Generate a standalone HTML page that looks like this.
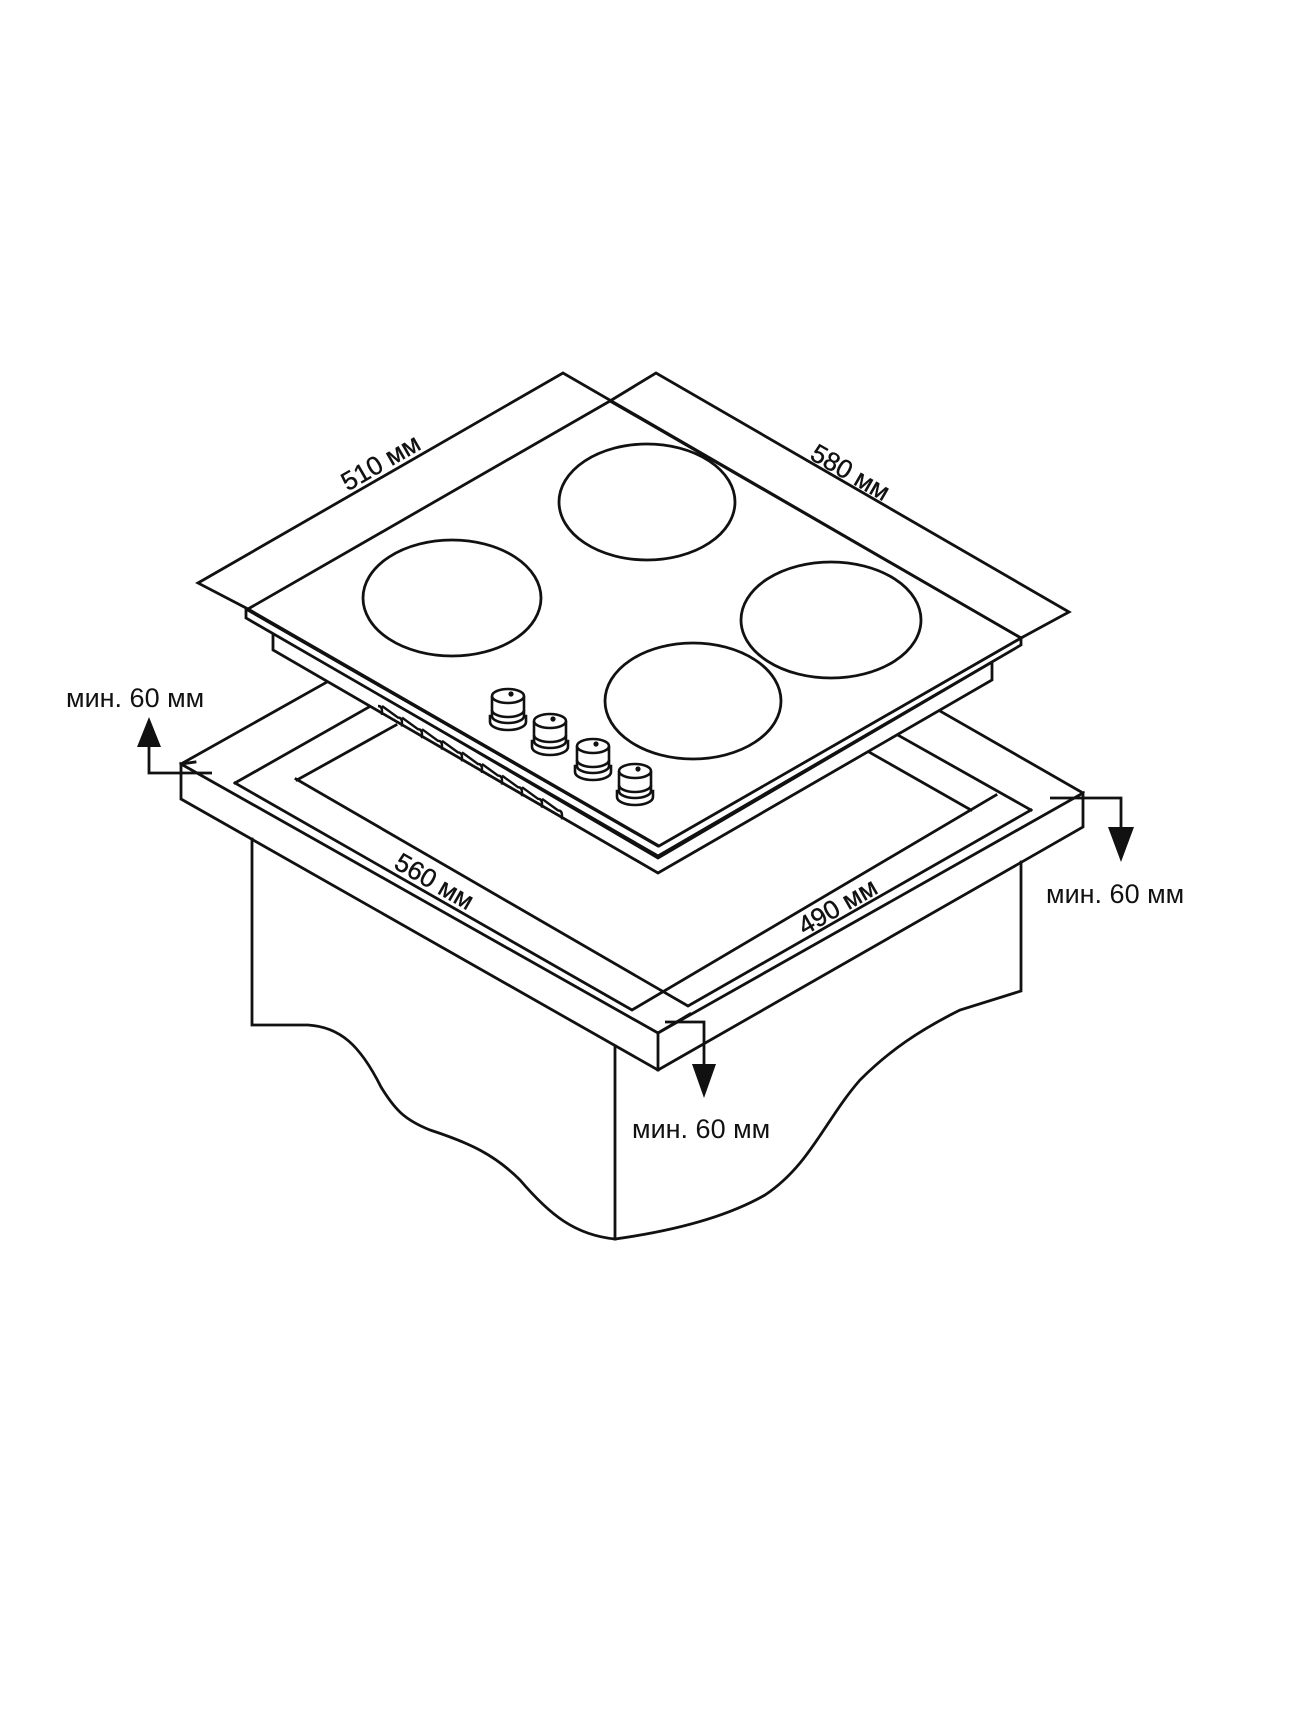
<!DOCTYPE html>
<html><head><meta charset="utf-8"><style>
html,body{margin:0;padding:0;background:#fff;}
svg{display:block;}
text{font-family:"Liberation Sans",Arial,sans-serif;fill:#111;}
</style></head><body>
<svg width="1300" height="1734" viewBox="0 0 1300 1734" xmlns="http://www.w3.org/2000/svg">
<g fill="none" stroke="#111" stroke-width="2.8" stroke-linejoin="miter" stroke-linecap="square">
<path d="M252,839 L252,1025 L308,1025 C340,1027 360,1045 381,1087 C395,1110 405,1120 430,1130 C470,1143 495,1155 520,1180 C550,1215 575,1235 615,1239 L615,1046"/>
<path d="M615,1239 C680,1230 730,1215 765,1195 C810,1165 825,1120 860,1080 C890,1050 920,1030 960,1010 L1021,991 L1021,862"/>
<path d="M181,764 L658,1033 L1083,793 L1083,827 L658,1070 L181,799 Z"/>
<path d="M658,1033 L658,1070"/>
<path d="M181,764 L327,682"/>
<path d="M1083,793 L940,711"/>
<path d="M235,783 L632,1010 L996,795"/>
<path d="M296,779 L688,1006 L1031,810"/>
<path d="M235,783 L369,707"/>
<path d="M297,780 L396,725"/>
<path d="M1031,810 L896,734"/>
<path d="M971,810 L869,752"/>
<path d="M658,1033 L690,1014 M181,764 L195,762"/>
</g>
<g fill="#fff" stroke="#111" stroke-width="2.8" stroke-linejoin="miter">
<path d="M273,632 L273,650 L658,873 L992,680 L992,662 L658,858 Z"/>
<path d="M246,609 L246,618 L658,856 L1021,645 L1021,638 L658,846 Z"/>
<path d="M248,609 L610,401 L1021,638 L659,846 Z"/>
</g>
<g fill="none" stroke="#111" stroke-width="2.8">
<path d="M248,609 L198,583 L563,373 L1021,638"/>
<path d="M610,401 L656,373 L1069,612 L1021,638"/>
<ellipse cx="452" cy="598" rx="89" ry="58"/>
<ellipse cx="647" cy="502" rx="88" ry="58"/>
<ellipse cx="831" cy="620" rx="90" ry="58"/>
<ellipse cx="693" cy="701" rx="88" ry="58"/>
<path d="M378,706 c3,0 4,2 4,5 v4 m0,-9 l16,11.6 c3,0 4,2 4,5 v4 m0,-9 l16,11.6 c3,0 4,2 4,5 v4 m0,-9 l16,11.6 c3,0 4,2 4,5 v4 m0,-9 l16,11.6 c3,0 4,2 4,5 v4 m0,-9 l16,11.6 c3,0 4,2 4,5 v4 m0,-9 l16,11.6 c3,0 4,2 4,5 v4 m0,-9 l16,11.6 c3,0 4,2 4,5 v4 m0,-9 l16,11.6 c3,0 4,2 4,5 v4 m0,-9 l16,11.6 c3,0 4,2 4,5 v4" stroke-width="2.4"/>
</g>
<g fill="#fff" stroke="#111" stroke-width="2.6">
<g transform="translate(508,696)"><path d="M-18,26 a18,8 0 0 0 36,0 v-6 h-36 z"/><path d="M-16,0 v20 a16,7 0 0 0 32,0 v-20"/><ellipse cx="0" cy="0" rx="16" ry="7"/><path d="M-16,14 a16,7 0 0 0 32,0" fill="none"/><circle cx="3" cy="-2" r="1.3" fill="#111"/></g>
<g transform="translate(550,721)"><path d="M-18,26 a18,8 0 0 0 36,0 v-6 h-36 z"/><path d="M-16,0 v20 a16,7 0 0 0 32,0 v-20"/><ellipse cx="0" cy="0" rx="16" ry="7"/><path d="M-16,14 a16,7 0 0 0 32,0" fill="none"/><circle cx="3" cy="-2" r="1.3" fill="#111"/></g>
<g transform="translate(593,746)"><path d="M-18,26 a18,8 0 0 0 36,0 v-6 h-36 z"/><path d="M-16,0 v20 a16,7 0 0 0 32,0 v-20"/><ellipse cx="0" cy="0" rx="16" ry="7"/><path d="M-16,14 a16,7 0 0 0 32,0" fill="none"/><circle cx="3" cy="-2" r="1.3" fill="#111"/></g>
<g transform="translate(635,771)"><path d="M-18,26 a18,8 0 0 0 36,0 v-6 h-36 z"/><path d="M-16,0 v20 a16,7 0 0 0 32,0 v-20"/><ellipse cx="0" cy="0" rx="16" ry="7"/><path d="M-16,14 a16,7 0 0 0 32,0" fill="none"/><circle cx="3" cy="-2" r="1.3" fill="#111"/></g>
</g>
<g fill="none" stroke="#111" stroke-width="2.8">
<path d="M212,773 L149,773 L149,744"/>
<path d="M1050,798 L1121,798 L1121,830"/>
<path d="M665,1022 L704,1022 L704,1066"/>
</g>
<g fill="#111">
<polygon points="149,717 137,747 161,747"/>
<polygon points="1121,862 1108,827 1134,827"/>
<polygon points="704,1098 692,1064 716,1064"/>
</g>
<g font-size="27">
<text x="66" y="707">мин. 60 мм</text>
<text x="1046" y="903">мин. 60 мм</text>
<text x="632" y="1138">мин. 60 мм</text>
</g>
<g font-size="26" text-anchor="middle" stroke="#111" stroke-width="0.4">
<text transform="translate(385,470) rotate(-30)">510 мм</text>
<text transform="translate(846,480) rotate(30)">580 мм</text>
<text transform="translate(430,889) rotate(30)">560 мм</text>
<text transform="translate(842,914) rotate(-30)">490 мм</text>
</g>
</svg>
</body></html>
